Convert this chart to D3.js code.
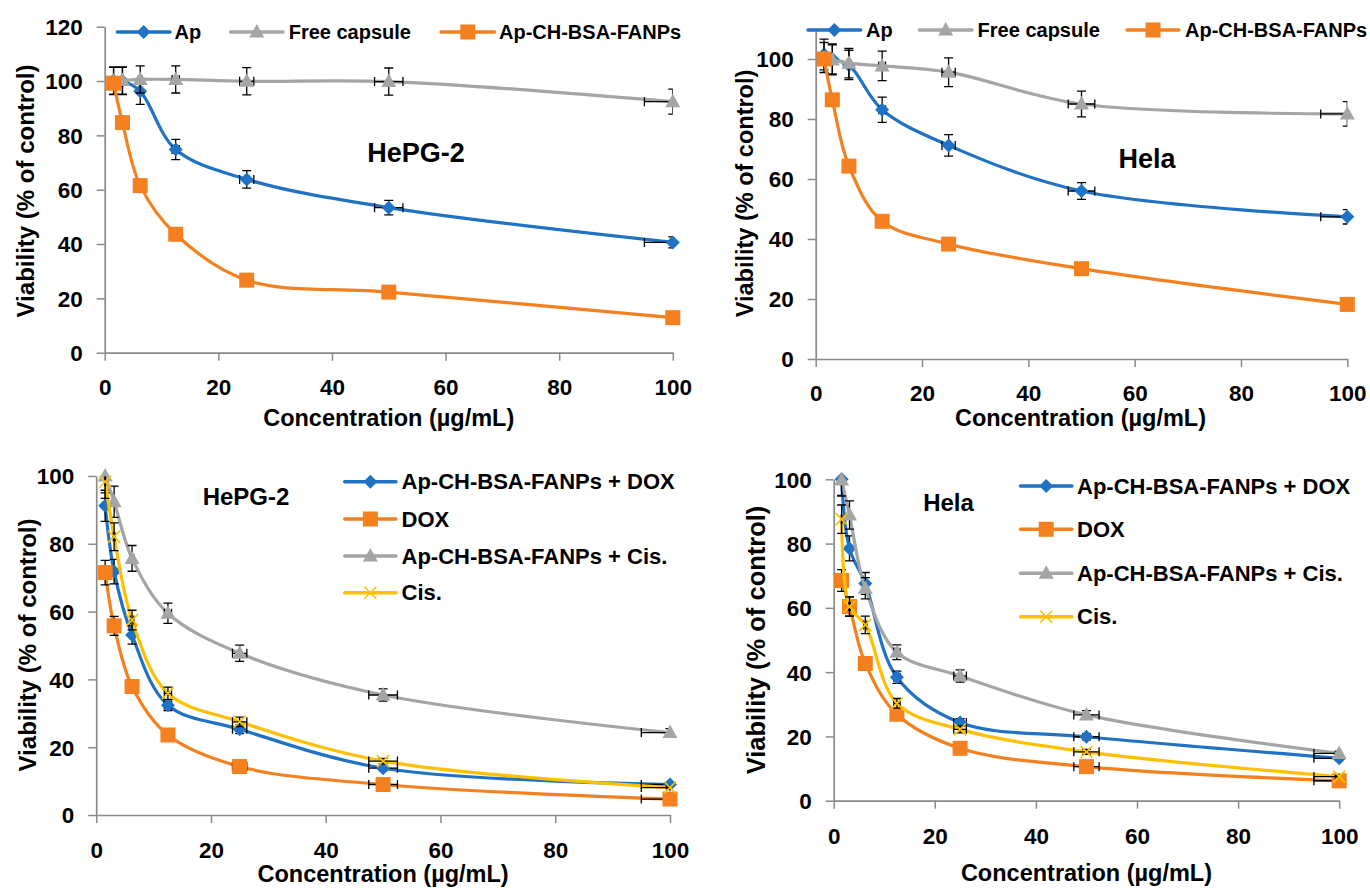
<!DOCTYPE html>
<html>
<head>
<meta charset="utf-8">
<script src="https://cdn.jsdelivr.net/npm/d3@7"></script>
<style>
  body { margin: 0; background: #fff; }
  svg { display: block; }
  text { font-family: "Liberation Sans", Arial, sans-serif; font-weight: bold; fill: #000; }
</style>
</head>
<body>
<svg id="chart" width="1370" height="888"></svg>
<script>
// Concentrations tested (µg/mL)
const concentrations = [1.5625, 3.125, 6.25, 12.5, 25, 50, 100];
const concErr = [0.08, 0.16, 0.31, 0.63, 1.25, 2.5, 5];
const xTickValues = [0, 20, 40, 60, 80, 100];

// HePG-2: free drug, capsule and loaded nanoparticles
const hepgAp = [100.2, 100, 96.2, 74.8, 63.8, 53.4, 40.6];
const hepgApErr = [5.0, 5.0, 4.8, 3.7, 3.2, 2.7, 2.0];
const hepgFree = [100, 100.2, 100.6, 100.6, 99.9, 99.8, 92.4];
const hepgFreeErr = [5.0, 5.0, 5.0, 5.0, 5.0, 5.0, 4.6];
const hepgNP = [99.2, 84.7, 61.5, 43.6, 26.7, 22.3, 12.9];

// Hela: free drug, capsule and loaded nanoparticles
const helaAp = [101.5, 100, 98, 83.1, 71.2, 56, 47.4];
const helaApErr = [5.1, 5.0, 4.9, 4.2, 3.6, 2.8, 2.4];
const helaFree = [100.5, 99.7, 98.6, 97.7, 95.6, 85, 81.7];
const helaFreeErr = [5.0, 5.0, 4.9, 4.9, 4.8, 4.3, 4.1];
const helaNP = [100, 86.4, 64.3, 45.9, 38.3, 30.1, 18.2];

// HePG-2: combinations with DOX and cisplatin
const hepgNPDox = [91.2, 71.8, 53.1, 32.4, 25.3, 13.8, 9.0];
const hepgNPDoxErr = [4.6, 3.6, 2.7, 1.6, 1.3, 0.7, 0.5];
const hepgDox = [71.5, 55.8, 37.9, 23.6, 14.3, 9.0, 4.7];
const hepgDoxErr = [3.6, 2.8, 1.9, 1.2, 0.7, 0.5, 0.2];
const hepgNPCis = [100, 92.4, 75.7, 59.5, 47.7, 35.4, 24.3];
const hepgNPCisErr = [5.0, 4.6, 3.8, 3.0, 2.4, 1.8, 1.2];
const hepgCis = [98.3, 82.1, 57.5, 35.9, 27.5, 15.9, 8.1];
const hepgCisErr = [4.9, 4.1, 2.9, 1.8, 1.4, 0.8, 0.4];

// Hela: combinations with DOX and cisplatin
const helaNPDox = [100, 78.5, 67.6, 38.4, 24.3, 19.9, 13.2];
const helaNPDoxErr = [5.0, 3.9, 3.4, 1.9, 1.2, 1.0, 0.7];
const helaDox = [68.5, 60.4, 42.7, 26.9, 16.3, 10.6, 6.2];
const helaDoxErr = [3.4, 3.0, 2.1, 1.3, 0.8, 0.5, 0.3];
const helaNPCis = [99.8, 88.9, 66.1, 46.2, 38.8, 26.7, 14.7];
const helaNPCisErr = [5.0, 4.4, 3.3, 2.3, 1.9, 1.3, 0.7];
const helaCis = [87.6, 60.4, 54.7, 30.3, 22.2, 15.2, 7.5];
const helaCisErr = [4.4, 3.0, 2.7, 1.5, 1.1, 0.8, 0.4];

const COLORS = { blue: "#1f72c4", orange: "#f4801f", gray: "#a5a5a5", yellow: "#ffc000" };
const AXIS_COLOR = "#8a8a8a";

const svg = d3.select("#chart");

function drawMarker(g, type, color) {
  if (type === "diamond") {
    g.append("path").attr("d", "M0,-7L7,0L0,7L-7,0Z").attr("fill", color);
  } else if (type === "square") {
    g.append("rect").attr("x", -7.5).attr("y", -7.5).attr("width", 15).attr("height", 15).attr("fill", color);
  } else if (type === "triangle") {
    g.append("path").attr("d", "M0,-8L7.5,5.5L-7.5,5.5Z").attr("fill", color);
  } else if (type === "cross") {
    g.append("path").attr("d", "M-6,-6L6,6M-6,6L6,-6").attr("stroke", color).attr("stroke-width", 1.6).attr("fill", "none");
  }
}

function drawPanel(cfg, idx) {
  const x = d3.scaleLinear().domain([0, 100]).range([cfg.x0, cfg.x1]);
  const y = d3.scaleLinear().domain([0, cfg.ymax]).range([cfg.yb, cfg.yt]);
  const g = svg.append("g");

  // clip region for error bars (plot area)
  const clipId = "clip" + idx;
  svg.append("clipPath").attr("id", clipId).append("rect")
    .attr("x", cfg.x0).attr("y", cfg.yt).attr("width", cfg.x1 - cfg.x0).attr("height", cfg.yb - cfg.yt);

  // axes
  const yAxis = d3.axisLeft(y).tickValues(cfg.yTicks).tickSize(8).tickSizeOuter(0).tickPadding(14);
  const ya = g.append("g").attr("transform", `translate(${cfg.x0},0)`).call(yAxis);
  const xAxis = d3.axisBottom(x).tickValues(xTickValues).tickSize(8).tickSizeOuter(0).tickFormat(d3.format("d"));
  const xa = g.append("g").attr("transform", `translate(0,${cfg.yb})`).call(xAxis);
  [ya, xa].forEach(a => {
    a.select(".domain").attr("stroke", AXIS_COLOR).attr("stroke-width", 1.7);
    a.selectAll(".tick line").attr("stroke", AXIS_COLOR).attr("stroke-width", 1.5);
    a.selectAll(".tick text").attr("fill", "#000").style("font-size", cfg.tickSize + "px")
      .style("font-family", '"Liberation Sans", Arial, sans-serif').style("font-weight", "bold");
  });
  ya.selectAll(".tick text").attr("dy", "0.35em");
  xa.selectAll(".tick text").attr("dy", null)
    .attr("y", cfg.tickLabelY - cfg.yb).attr("dominant-baseline", "central");

  // axis titles
  g.append("text").attr("x", (cfg.x0 + cfg.x1) / 2 + (cfg.xTitleShift || 0)).attr("y", cfg.xTitleY)
    .attr("text-anchor", "middle").attr("dominant-baseline", "central")
    .style("font-size", "23.5px").text("Concentration (µg/mL)");
  g.append("text").attr("transform", `translate(${cfg.yTitleX},${cfg.yTitleY}) rotate(-90)`)
    .attr("text-anchor", "middle").attr("dominant-baseline", "central")
    .style("font-size", cfg.yTitleSize + "px").text("Viability (% of control)");

  // cell line label
  g.append("text").attr("x", cfg.tag.x).attr("y", cfg.tag.y)
    .attr("text-anchor", "middle").attr("dominant-baseline", "central")
    .style("font-size", cfg.tag.size + "px").text(cfg.tag.text);

  const line = d3.line()
    .x((d, i) => x(concentrations[i]))
    .y(d => y(d))
    .curve(d3.curveCatmullRom.alpha(0.5));

  cfg.series.forEach(s => {
    const sg = g.append("g");
    sg.append("path").datum(s.values).attr("d", line)
      .attr("fill", "none").attr("stroke", s.color).attr("stroke-width", 3.2)
      .attr("stroke-linejoin", "round").attr("stroke-linecap", "round");
    // error bars sit beneath the markers
    if (s.err) {
      const eg = sg.append("g").attr("clip-path", `url(#${clipId})`)
        .attr("stroke", "#000").attr("stroke-width", 1.3).attr("fill", "none");
      s.values.forEach((v, i) => {
        const cx = x(concentrations[i]);
        const lo = y(v - s.err[i]), hi = y(v + s.err[i]);
        eg.append("path").attr("d", `M${cx},${lo}V${hi}M${cx - 4.5},${lo}H${cx + 4.5}M${cx - 4.5},${hi}H${cx + 4.5}`);
        const cy = y(v);
        const xl = x(concentrations[i] - concErr[i]), xr = x(concentrations[i] + concErr[i]);
        eg.append("path").attr("d", `M${xl},${cy}H${xr}M${xl},${cy - 4.5}V${cy + 4.5}M${xr},${cy - 4.5}V${cy + 4.5}`);
      });
    }
    s.values.forEach((v, i) => {
      const mg = sg.append("g").attr("transform", `translate(${x(concentrations[i])},${y(v)})`);
      drawMarker(mg, s.marker, s.color);
    });
  });

  // legend
  cfg.series.forEach((s, i) => {
    const L = cfg.legend[i];
    const lg = g.append("g");
    lg.append("line").attr("x1", L.x1).attr("x2", L.x2).attr("y1", L.y).attr("y2", L.y)
      .attr("stroke", s.color).attr("stroke-width", 3.4).attr("stroke-linecap", "round");
    drawMarker(lg.append("g").attr("transform", `translate(${(L.x1 + L.x2) / 2},${L.y})`), s.marker, s.color);
    lg.append("text").attr("x", L.tx).attr("y", L.y).attr("dominant-baseline", "central")
      .style("font-size", cfg.legendSize + "px").text(s.name);
  });
}

const panels = [
  {
    x0: 104.7, x1: 672.8, yb: 352.7, yt: 26.7, ymax: 120, yTicks: [0, 20, 40, 60, 80, 100, 120],
    tickSize: 22.5, tickLabelY: 388, xTitleY: 418, yTitleX: 25, yTitleY: 191, yTitleSize: 24,
    tag: { text: "HePG-2", x: 416, y: 153, size: 27 }, legendSize: 20,
    series: [
      { name: "Ap", values: hepgAp, err: hepgApErr, color: COLORS.blue, marker: "diamond" },
      { name: "Free capsule", values: hepgFree, err: hepgFreeErr, color: COLORS.gray, marker: "triangle" },
      { name: "Ap-CH-BSA-FANPs", values: hepgNP, err: null, color: COLORS.orange, marker: "square" }
    ],
    legend: [
      { x1: 117.3, x2: 170, tx: 174.6, y: 32 },
      { x1: 230.5, x2: 283, tx: 288.7, y: 32 },
      { x1: 441, x2: 494.6, tx: 499, y: 32 }
    ]
  },
  {
    x0: 815.7, x1: 1347.3, yb: 359, yt: 29, ymax: 110, yTicks: [0, 20, 40, 60, 80, 100],
    tickSize: 22.5, tickLabelY: 393, xTitleY: 418.3, xTitleShift: -1, yTitleX: 745, yTitleY: 193.5, yTitleSize: 23.5,
    tag: { text: "Hela", x: 1147, y: 159.3, size: 27 }, legendSize: 20,
    series: [
      { name: "Ap", values: helaAp, err: helaApErr, color: COLORS.blue, marker: "diamond" },
      { name: "Free capsule", values: helaFree, err: helaFreeErr, color: COLORS.gray, marker: "triangle" },
      { name: "Ap-CH-BSA-FANPs", values: helaNP, err: null, color: COLORS.orange, marker: "square" }
    ],
    legend: [
      { x1: 808, x2: 860.7, tx: 866, y: 30 },
      { x1: 919.4, x2: 972, tx: 977.6, y: 30 },
      { x1: 1127, x2: 1179, tx: 1185, y: 30 }
    ]
  },
  {
    x0: 96.2, x1: 670, yb: 815, yt: 476, ymax: 100, yTicks: [0, 20, 40, 60, 80, 100],
    tickSize: 22.5, tickLabelY: 850, xTitleY: 873.5, yTitleX: 27, yTitleY: 645, yTitleSize: 24,
    tag: { text: "HePG-2", x: 246, y: 496, size: 24 }, legendSize: 22,
    series: [
      { name: "Ap-CH-BSA-FANPs + DOX", values: hepgNPDox, err: hepgNPDoxErr, color: COLORS.blue, marker: "diamond" },
      { name: "DOX", values: hepgDox, err: hepgDoxErr, color: COLORS.orange, marker: "square" },
      { name: "Ap-CH-BSA-FANPs + Cis.", values: hepgNPCis, err: hepgNPCisErr, color: COLORS.gray, marker: "triangle" },
      { name: "Cis.", values: hepgCis, err: hepgCisErr, color: COLORS.yellow, marker: "cross" }
    ],
    legend: [
      { x1: 344.7, x2: 396, tx: 401.5, y: 481.7 },
      { x1: 344.7, x2: 396, tx: 401.5, y: 519 },
      { x1: 344.7, x2: 396, tx: 401.5, y: 556 },
      { x1: 344.7, x2: 396, tx: 401.5, y: 592.7 }
    ]
  },
  {
    x0: 833.7, x1: 1339.2, yb: 800.7, yt: 479.3, ymax: 100, yTicks: [0, 20, 40, 60, 80, 100],
    tickSize: 22.5, tickLabelY: 836.7, xTitleY: 872.5, yTitleX: 755.7, yTitleY: 640, yTitleSize: 25.5,
    tag: { text: "Hela", x: 948.5, y: 502.7, size: 24 }, legendSize: 22,
    series: [
      { name: "Ap-CH-BSA-FANPs + DOX", values: helaNPDox, err: helaNPDoxErr, color: COLORS.blue, marker: "diamond" },
      { name: "DOX", values: helaDox, err: helaDoxErr, color: COLORS.orange, marker: "square" },
      { name: "Ap-CH-BSA-FANPs + Cis.", values: helaNPCis, err: helaNPCisErr, color: COLORS.gray, marker: "triangle" },
      { name: "Cis.", values: helaCis, err: helaCisErr, color: COLORS.yellow, marker: "cross" }
    ],
    legend: [
      { x1: 1020.5, x2: 1071.9, tx: 1077, y: 486 },
      { x1: 1020.5, x2: 1071.9, tx: 1077, y: 529.3 },
      { x1: 1020.5, x2: 1071.9, tx: 1077, y: 573.3 },
      { x1: 1020.5, x2: 1071.9, tx: 1077, y: 616.7 }
    ]
  }
];

panels.forEach((p, i) => drawPanel(p, i));
</script>
</body>
</html>
